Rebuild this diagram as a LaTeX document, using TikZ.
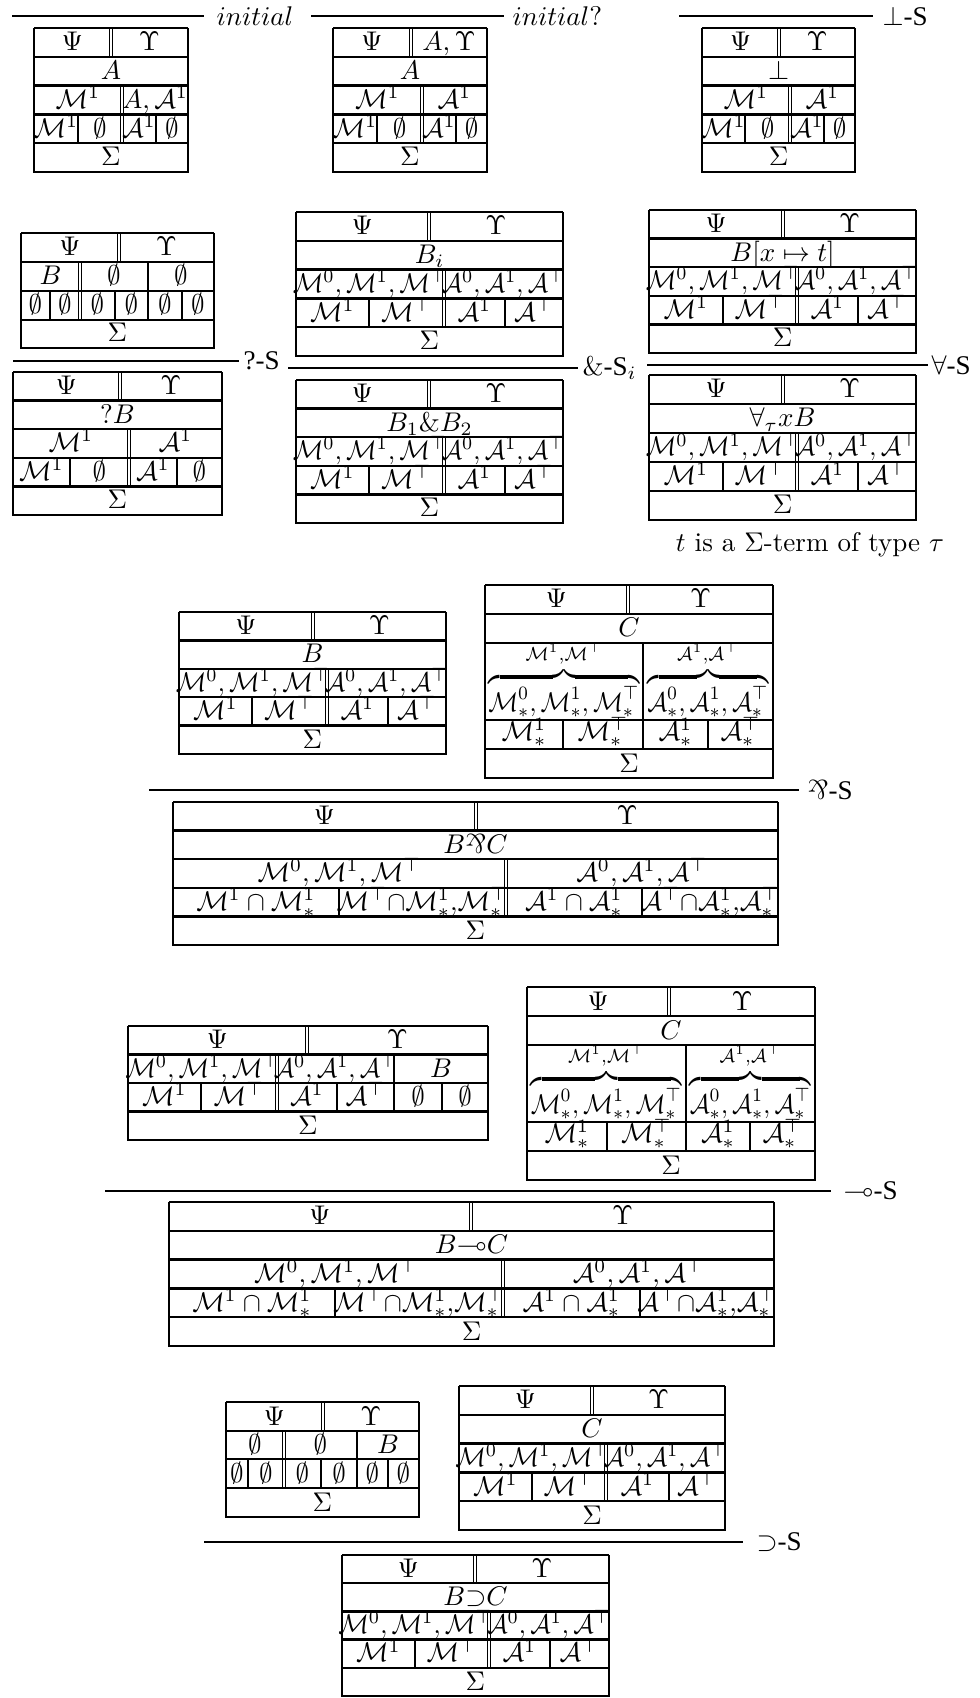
\documentclass[tikz,border=0pt]{standalone}
\usepackage{amsmath,amssymb}
\usepackage{graphicx}
\usepackage{fontspec}
\newfontfamily\rulefont{Liberation Serif}
\usetikzlibrary{calc}

\newcommand{\cM}{\mathcal{M}}
\newcommand{\cA}{\mathcal{A}}
\newcommand{\Mtri}{\cM^0,\cM^1,\cM^\top}
\newcommand{\Atri}{\cA^0,\cA^1,\cA^\top}
\newcommand{\Mtrin}{\scalebox{0.94}[1]{$\Mtri$}}
\newcommand{\Atrin}{\scalebox{0.94}[1]{$\Atri$}}
\newcommand{\parrsym}{\mathord{\rotatebox[origin=c]{180}{$\&$}}}

% five rows: lines and cell anchors
\newcommand{\stdtab}[9]{%
  \pgfmathsetmacro{\tya}{#4+#5}%
  \pgfmathsetmacro{\tyb}{#4+2*#5}%
  \pgfmathsetmacro{\tyc}{#4+3*#5}%
  \pgfmathsetmacro{\tyd}{#4+4*#5}%
  \pgfmathsetmacro{\tye}{#4+5*#5}%
  \draw[dbl] (#6,#4) -- (#6,\tya);
  \draw[dbl] (#7,\tyb) -- (#7,\tyd);
  \draw[sep] (#8,\tyc) -- (#8,\tyd);
  \draw[sep] (#9,\tyc) -- (#9,\tyd);
  \foreach \yy in {#4,\tya,\tyb,\tyc,\tyd} \draw[rule] (#2,\yy) -- (#3,\yy);
  \draw[side] (#2,#4) -- (#2,\tye) -- (#3,\tye) -- (#3,#4);
  \coordinate (#1-hl) at ({(#2+#6)/2},{\tya-6});
  \coordinate (#1-hr) at ({(#6+#3)/2},{\tya-6});
  \coordinate (#1-fm) at ({(#2+#3)/2},{\tyb-6});
  \coordinate (#1-ml) at ({(#2+#7)/2},{\tyc-6});
  \coordinate (#1-mr) at ({(#7+#3)/2},{\tyc-6});
  \coordinate (#1-s1) at ({(#2+#8)/2},{\tyd-6});
  \coordinate (#1-s2) at ({(#8+#7)/2},{\tyd-6});
  \coordinate (#1-s3) at ({(#7+#9)/2},{\tyd-6});
  \coordinate (#1-s4) at ({(#9+#3)/2},{\tyd-6});
  \coordinate (#1-sg) at ({(#2+#3)/2},{\tye-6});
}
\newcommand{\stdtext}[9]{%
  \node[cell] (#1-psi) at (#1-hl) {$\Psi$};
  \node[cell] (#1-ups) at (#1-hr) {$#2$};
  \node[cell] (#1-for) at (#1-fm) {$#3$};
  \node[cell] (#1-lft) at (#1-ml) {$#4$};
  \node[cell] (#1-rgt) at (#1-mr) {$#5$};
  \node[cell] (#1-c1) at (#1-s1) {$#6$};
  \node[cell] (#1-c2) at (#1-s2) {$#7$};
  \node[cell] (#1-c3) at (#1-s3) {$#8$};
  \node[cell] (#1-c4) at (#1-s4) {$#9$};
  \node[cell] (#1-sig) at (#1-sg) {$\Sigma$};
}
% premise C with the braces
\newcommand{\bracetab}[8]{%
  \pgfmathsetmacro{\tya}{#4+29}%
  \pgfmathsetmacro{\tyb}{#4+58}%
  \pgfmathsetmacro{\tyc}{#4+135}%
  \pgfmathsetmacro{\tyd}{#4+164}%
  \pgfmathsetmacro{\tye}{#4+193}%
  \draw[dbl] (#5,#4) -- (#5,\tya);
  \draw[sep] (#6,\tyb) -- (#6,\tyd);
  \draw[sep] (#7,\tyc) -- (#7,\tyd);
  \draw[sep] (#8,\tyc) -- (#8,\tyd);
  \foreach \yy in {#4,\tya,\tyb,\tyc,\tyd} \draw[rule] (#2,\yy) -- (#3,\yy);
  \draw[side] (#2,#4) -- (#2,\tye) -- (#3,\tye) -- (#3,#4);
  \node[cell] (#1-psi) at ({(#2+#5)/2},{\tya-6}) {$\Psi$};
  \node[cell] (#1-ups) at ({(#5+#3)/2},{\tya-6}) {$\Upsilon$};
  \node[cell] (#1-for) at ({(#2+#3)/2},{\tyb-6}) {$C$};
  \node[cell] (#1-lft) at ({(#2+#6)/2},{\tyc-9})
    {\scalebox{0.92}[1]{$\overbrace{\cM^0_*,\cM^1_*,\cM^\top_*}^{\cM^1,\cM^\top}$}};
  \node[cell] (#1-rgt) at ({(#6+#3)/2},{\tyc-9})
    {\scalebox{0.92}[1]{$\overbrace{\cA^0_*,\cA^1_*,\cA^\top_*}^{\cA^1,\cA^\top}$}};
  \node[cell] (#1-c1) at ({(#2+#7)/2},{\tyd-9}) {$\cM^1_*$};
  \node[cell] (#1-c2) at ({(#7+#6)/2},{\tyd-9}) {$\cM^\top_*$};
  \node[cell] (#1-c3) at ({(#6+#8)/2},{\tyd-9}) {$\cA^1_*$};
  \node[cell] (#1-c4) at ({(#8+#3)/2},{\tyd-9}) {$\cA^\top_*$};
  \node[cell] (#1-sig) at ({(#2+#3)/2},{\tye-6}) {$\Sigma$};
}

\begin{document}
\begin{tikzpicture}[x=0.37pt,y=-0.37pt]
	\tikzstyle{rule} = [line width=0.9pt];
	\tikzstyle{side} = [line width=0.5pt];
	\tikzstyle{sep} = [line width=0.4pt];
	\tikzstyle{dbl} = [double, line width=0.35pt, double distance=0.8pt];
	\tikzstyle{infer} = [line width=0.7pt];
	\tikzstyle{cell} = [anchor=base, inner sep=0pt];
	\tikzstyle{rulelabel} = [anchor=west, inner sep=0pt];
	\useasboundingbox (0,0) rectangle (979,1698);
	
	% axioms
	\coordinate (ini-w) at (12,16);
	\coordinate (ini-e) at (204,16);
	\draw[infer] (ini-w) -- (ini-e);
	\node[rulelabel] (ini-lab) at (216,16) {$initial$};
	\stdtab{ini}{34}{188}{28}{28.8}{111}{122}{78}{156}
	\stdtext{ini}{\Upsilon}{A}{\cM^1}{A,\cA^1}{\cM^1}{\emptyset}{\cA^1}{\emptyset}
	
	\coordinate (iniq-w) at (311,16);
	\coordinate (iniq-e) at (504,16);
	\draw[infer] (iniq-w) -- (iniq-e);
	\node[rulelabel] (iniq-lab) at (512,16) {$initial?$};
	\stdtab{iniq}{333}{487}{28}{28.8}{411}{422}{377}{456}
	\stdtext{iniq}{A,\Upsilon}{A}{\cM^1}{\cA^1}{\cM^1}{\emptyset}{\cA^1}{\emptyset}
	
	\coordinate (bot-w) at (679,16);
	\coordinate (bot-e) at (873,16);
	\draw[infer] (bot-w) -- (bot-e);
	\node[rulelabel] (bot-lab) at (882,16) {$\bot${\rulefont -S}};
	\stdtab{bot}{702}{855}{28}{28.8}{779}{790}{745}{824}
	\stdtext{bot}{\Upsilon}{\bot}{\cM^1}{\cA^1}{\cM^1}{\emptyset}{\cA^1}{\emptyset}
	
	% ?-S
	\draw[dbl] (119,233) -- (119,262);
	\draw[dbl] (80,262) -- (80,320);
	\draw[sep] (148,262) -- (148,320);
	\foreach \xx in {50,115,182} \draw[sep] (\xx,291) -- (\xx,320);
	\foreach \yy in {233,262,291,320} \draw[rule] (21,\yy) -- (214,\yy);
	\draw[side] (21,233) -- (21,348) -- (214,348) -- (214,233);
	\node[cell] (whyp-psi) at (70,256) {$\Psi$};
	\node[cell] (whyp-ups) at (166.5,256) {$\Upsilon$};
	\node[cell] (whyp-b) at (50.5,285) {$B$};
	\node[cell] (whyp-e1) at (114,285) {$\emptyset$};
	\node[cell] (whyp-e2) at (181,285) {$\emptyset$};
	\foreach \xx [count=\i] in {35.5,65,97.5,131.5,165,198}
		\node[cell] (whyp-s\i) at (\xx,314) {$\emptyset$};
	\node[cell] (whyp-sig) at (117.5,342) {$\Sigma$};
	
	\coordinate (why-w) at (13,361);
	\coordinate (why-e) at (239,361);
	\draw[infer] (why-w) -- (why-e);
	\node[rulelabel] (why-lab) at (243,361) {\rulefont ?-S};
	\stdtab{whyc}{13}{222}{372}{28.6}{120}{129}{70}{177}
	\stdtext{whyc}{\Upsilon}{?B}{\cM^1}{\cA^1}{\cM^1}{\emptyset}{\cA^1}{\emptyset}
	
	% &-S
	\stdtab{withp}{296}{563}{212}{28.8}{429}{444}{369}{505}
	\stdtext{withp}{\Upsilon}{B_i}{\Mtrin}{\Atrin}{\cM^1}{\cM^\top}{\cA^1}{\cA^\top}
	\coordinate (with-w) at (288,368);
	\coordinate (with-e) at (578,368);
	\draw[infer] (with-w) -- (with-e);
	\node[rulelabel] (with-lab) at (582,368) {\&{\rulefont -S}$_i$};
	\stdtab{withc}{296}{563}{380}{28.6}{429}{444}{369}{505}
	\stdtext{withc}{\Upsilon}{B_1\&B_2}{\Mtrin}{\Atrin}{\cM^1}{\cM^\top}{\cA^1}{\cA^\top}
	
	% forall-S
	\stdtab{allp}{649}{916}{210}{28.6}{783}{797}{723}{858}
	\stdtext{allp}{\Upsilon}{B[x\mapsto t]}{\Mtrin}{\Atrin}{\cM^1}{\cM^\top}{\cA^1}{\cA^\top}
	\coordinate (all-w) at (647,365);
	\coordinate (all-e) at (928,365);
	\draw[infer] (all-w) -- (all-e);
	\node[rulelabel] (all-lab) at (931,365) {$\forall${\rulefont -S}};
	\stdtab{allc}{649}{916}{375}{29}{783}{797}{723}{858}
	\stdtext{allc}{\Upsilon}{\forall_\tau xB}{\Mtrin}{\Atrin}{\cM^1}{\cM^\top}{\cA^1}{\cA^\top}
	\node (all-side) at (810,545) {$t$ is a $\Sigma$-term of type $\tau$};
	
	% par-S
	\stdtab{parp}{179}{446}{612}{28.4}{313}{327}{252}{388}
	\stdtext{parp}{\Upsilon}{B}{\Mtrin}{\Atrin}{\cM^1}{\cM^\top}{\cA^1}{\cA^\top}
	\bracetab{parq}{485}{773}{585}{628}{643}{563}{708}
	\coordinate (par-w) at (149,790);
	\coordinate (par-e) at (799,790);
	\draw[infer] (par-w) -- (par-e);
	\node[rulelabel] (par-lab) at (807,790) {\rotatebox[origin=c]{180}{\&}{\rulefont -S}};
	\stdtab{parc}{173}{778}{802}{28.6}{476}{506}{339}{642}
	\stdtext{parc}{\Upsilon}{B\parrsym C}{\Mtri}{\Atri}{\cM^1\cap\cM^1_*}{\cM^\top{\cap}\cM^1_*{,}\cM^\top_*}{\cA^1\cap\cA^1_*}{\cA^\top{\cap}\cA^1_*{,}\cA^\top_*}
	
	% lollipop-S
	\draw[dbl] (307,1026) -- (307,1054.5);
	\draw[dbl] (277,1054.5) -- (277,1111.5);
	\draw[sep] (394,1054.5) -- (394,1111.5);
	\foreach \xx in {201,337,442} \draw[sep] (\xx,1083) -- (\xx,1111.5);
	\foreach \yy in {1026,1054.5,1083,1111.5} \draw[rule] (128,\yy) -- (488,\yy);
	\draw[side] (128,1026) -- (128,1140) -- (488,1140) -- (488,1026);
	\node[cell] (limp-psi) at (217.5,1048.5) {$\Psi$};
	\node[cell] (limp-ups) at (397.5,1048.5) {$\Upsilon$};
	\node[cell] (limp-lft) at (202.5,1077) {$\Mtrin$};
	\node[cell] (limp-mid) at (335.5,1077) {$\Atrin$};
	\node[cell] (limp-b) at (441,1077) {$B$};
	\node[cell] (limp-c1) at (164.5,1105.5) {$\cM^1$};
	\node[cell] (limp-c2) at (239,1105.5) {$\cM^\top$};
	\node[cell] (limp-c3) at (307,1105.5) {$\cA^1$};
	\node[cell] (limp-c4) at (365.5,1105.5) {$\cA^\top$};
	\node[cell] (limp-c5) at (418,1105.5) {$\emptyset$};
	\node[cell] (limp-c6) at (465,1105.5) {$\emptyset$};
	\node[cell] (limp-sig) at (308,1134) {$\Sigma$};
	\bracetab{limq}{527}{815}{987}{669}{686}{607}{750}
	\coordinate (lim-w) at (105,1191);
	\coordinate (lim-e) at (831,1191);
	\draw[infer] (lim-w) -- (lim-e);
	\node[rulelabel] (lim-lab) at (843,1191) {$\multimap${\rulefont -S}};
	\stdtab{limc}{169}{774}{1202}{28.8}{471}{503}{335}{640}
	\stdtext{limc}{\Upsilon}{B{\multimap}C}{\Mtri}{\Atri}{\cM^1\cap\cM^1_*}{\cM^\top{\cap}\cM^1_*{,}\cM^\top_*}{\cA^1\cap\cA^1_*}{\cA^\top{\cap}\cA^1_*{,}\cA^\top_*}
	
	% supset-S
	\draw[dbl] (323,1402) -- (323,1431);
	\draw[dbl] (284,1431) -- (284,1488);
	\draw[sep] (357,1431) -- (357,1488);
	\foreach \xx in {248,321,388} \draw[sep] (\xx,1459) -- (\xx,1488);
	\foreach \yy in {1402,1431,1459,1488} \draw[rule] (226,\yy) -- (419,\yy);
	\draw[side] (226,1402) -- (226,1517) -- (419,1517) -- (419,1402);
	\node[cell] (impp-psi) at (274.5,1425) {$\Psi$};
	\node[cell] (impp-ups) at (371,1425) {$\Upsilon$};
	\node[cell] (impp-e1) at (255,1453) {$\emptyset$};
	\node[cell] (impp-e2) at (320.5,1453) {$\emptyset$};
	\node[cell] (impp-b) at (388,1453) {$B$};
	\foreach \xx [count=\i] in {237,266,302.5,339,372.5,403.5}
		\node[cell] (impp-s\i) at (\xx,1482) {$\emptyset$};
	\node[cell] (impp-sig) at (322.5,1511) {$\Sigma$};
	\stdtab{impq}{459}{725}{1386}{28.8}{592}{606}{532}{669}
	\stdtext{impq}{\Upsilon}{C}{\Mtrin}{\Atrin}{\cM^1}{\cM^\top}{\cA^1}{\cA^\top}
	\coordinate (imp-w) at (204,1542);
	\coordinate (imp-e) at (743,1542);
	\draw[infer] (imp-w) -- (imp-e);
	\node[rulelabel] (imp-lab) at (756,1542) {$\supset${\rulefont -S}};
	\stdtab{impc}{342}{609}{1555}{28.2}{475}{489}{415}{550}
	\stdtext{impc}{\Upsilon}{B{\supset}C}{\Mtrin}{\Atrin}{\cM^1}{\cM^\top}{\cA^1}{\cA^\top}
\end{tikzpicture}
\end{document}
